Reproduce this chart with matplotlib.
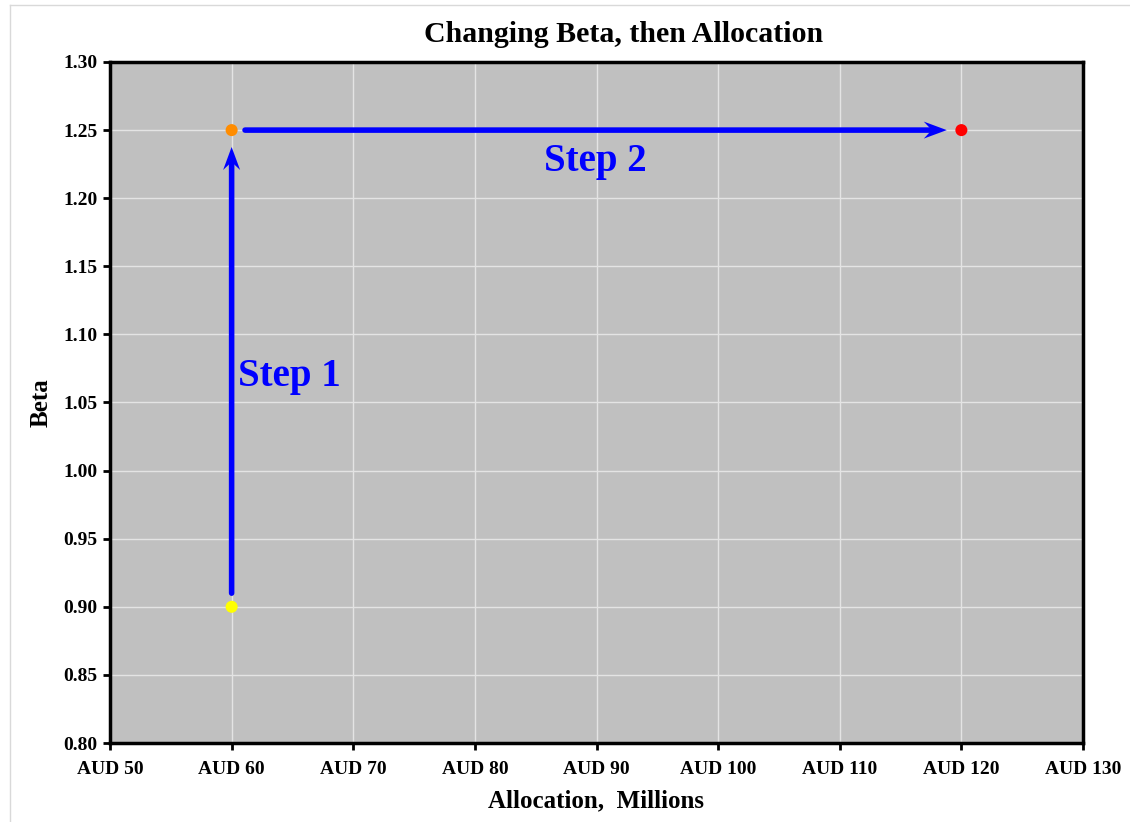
import numpy as np
import matplotlib.pyplot as plt
from matplotlib.lines import Line2D
from matplotlib.patches import Polygon
from matplotlib.transforms import Affine2D, ScaledTranslation
from matplotlib.ticker import FuncFormatter

# Puntos: asignación (millones AUD) y beta
allocation = [60, 60, 120]
beta = [0.90, 1.25, 1.25]
point_colors = ['#FFFF00', '#FF8C00', '#FF0000']

# Flechas de los pasos: (x inicial, y inicial, x final, y final)
step1 = (60, 0.91, 60, 1.2376)
step2 = (61.1, 1.25, 118.8, 1.25)

x_ticks = list(range(50, 131, 10))
y_ticks = [0.80, 0.85, 0.90, 0.95, 1.00, 1.05, 1.10, 1.15, 1.20, 1.25, 1.30]

plt.rcParams['font.family'] = ['Liberation Serif', 'DejaVu Serif']
plt.rcParams['font.weight'] = 'bold'

fig = plt.figure(figsize=(11.3, 8.22), dpi=100)
ax = fig.add_axes([110 / 1130, 1 - 743 / 822, 973 / 1130, 681 / 822])
ax.set_facecolor('#C0C0C0')

# marco gris claro del gráfico
fig.add_artist(Line2D([10 / 1130, 1], [1 - 5 / 822, 1 - 5 / 822],
                      transform=fig.transFigure, color='#D9D9D9', lw=1))
fig.add_artist(Line2D([10 / 1130, 10 / 1130], [0, 1 - 5 / 822],
                      transform=fig.transFigure, color='#D9D9D9', lw=1))

ax.set_xlim(50, 130)
ax.set_ylim(0.80, 1.30)
ax.set_xticks(x_ticks)
ax.set_yticks(y_ticks)
ax.xaxis.set_major_formatter(FuncFormatter(lambda v, p: f'AUD {v:.0f}'))
ax.yaxis.set_major_formatter(FuncFormatter(lambda v, p: f'{v:.2f}'))
ax.grid(True, color='#E4E4E4', linewidth=1)
ax.set_axisbelow(True)
for side in ax.spines.values():
    side.set_linewidth(2.5)
    side.set_color('black')
ax.tick_params(axis='x', direction='out', length=5, width=2, labelsize=14, pad=8)
ax.tick_params(axis='y', direction='out', length=5, width=2, labelsize=14, pad=4)

# punta tipo "stealth" en píxeles, apuntando hacia +x con la punta en el origen
head = np.array([[0, 0], [-23, 8.5], [-15, 0], [-23, -8.5]])

for arrow in (step1, step2):
    x0, y0, x1, y1 = arrow
    ax.annotate('', xy=(x1, y1), xytext=(x0, y0),
                arrowprops=dict(arrowstyle='-', color='#0000FF', lw=4,
                                shrinkA=0, shrinkB=10, capstyle='round'))
    p0 = ax.transData.transform((x0, y0))
    p1 = ax.transData.transform((x1, y1))
    angle = np.degrees(np.arctan2(p1[1] - p0[1], p1[0] - p0[0]))
    tr = Affine2D().rotate_deg(angle) + ScaledTranslation(x1, y1, ax.transData)
    ax.add_patch(Polygon(head, closed=True, transform=tr, facecolor='#0000FF',
                         edgecolor='none', zorder=4))

ax.scatter(allocation, beta, c=point_colors, s=75, zorder=5, linewidths=0)

ax.text(60.5, 1.069, 'Step 1', color='#0000FF', fontsize=28,
        fontweight='bold', ha='left', va='center')
ax.text(89.9, 1.227, 'Step 2', color='#0000FF', fontsize=28,
        fontweight='bold', ha='center', va='center')

fig.text(624 / 1130, 1 - 34 / 822, 'Changing Beta, then Allocation', fontsize=21.5,
         fontweight='bold', ha='center', va='center')
ax.set_xlabel('Allocation,  Millions', fontsize=18, fontweight='bold', labelpad=8)
ax.set_ylabel('Beta', fontsize=18, fontweight='bold', labelpad=8)

fig.savefig('out.png', dpi=100)
